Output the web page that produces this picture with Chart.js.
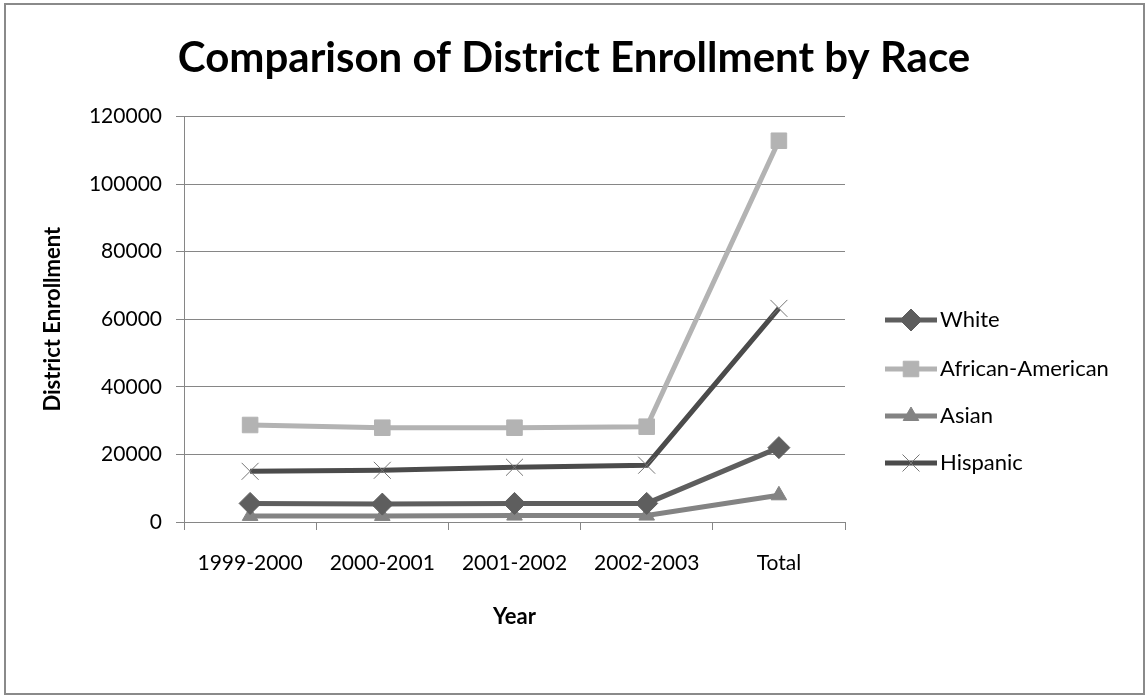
<!DOCTYPE html>
<html>
<head>
<meta charset="utf-8">
<script src="https://cdn.jsdelivr.net/npm/chart.js@4.4.1/dist/chart.umd.min.js"></script>
<style>
  html, body { margin: 0; padding: 0; background: #fff; }
  #frame {
    position: absolute; left: 4px; top: 3px;
    width: 1137px; height: 688px;
    border: 2px solid #8a8a8a;
  }
  #c { position: absolute; left: 0; top: 0; }
</style>
</head>
<body>
<div id="frame"></div>
<canvas id="c" width="1148" height="698"></canvas>
<script>
// enrollment per school year, plus the total column
const years = ['1999-2000', '2000-2001', '2001-2002', '2002-2003', 'Total'];
const white = [5500, 5300, 5500, 5500, 22000];
const africanAmerican = [28700, 27900, 27900, 28200, 112800];
const asian = [1800, 1800, 1900, 1900, 7900];
const hispanic = [15000, 15300, 16200, 16800, 63200];

const FONT = 'Lato, "Open Sans", sans-serif';
const AXIS = '#868686';

const series = [
  { label: 'White', data: white, color: '#5e5e5e', style: 'rectRot', radius: 11, bw: 1, mark: '#5e5e5e' },
  { label: 'African-American', data: africanAmerican, color: '#b3b3b3', style: 'rect', radius: 11, bw: 1, mark: '#b3b3b3' },
  { label: 'Asian', data: asian, color: '#838383', style: 'triangle', radius: 9, bw: 1, mark: '#838383' },
  { label: 'Hispanic', data: hispanic, color: '#4b4b4b', style: 'crossRot', radius: 12, bw: 1, mark: '#767676' }
];

// legend on the right: line sample with the marker in the middle
const sideLegend = {
  id: 'sideLegend',
  afterDraw(chart) {
    const ctx = chart.ctx;
    const x0 = 885, rowY = [320, 369, 416, 463];
    ctx.save();
    chart.data.datasets.forEach((ds, i) => {
      const y = rowY[i];
      ctx.strokeStyle = ds.borderColor;
      ctx.lineWidth = 5;
      ctx.beginPath();
      ctx.moveTo(x0, y);
      ctx.lineTo(x0 + 52, y);
      ctx.stroke();
      ctx.fillStyle = ds.pointBackgroundColor;
      ctx.strokeStyle = ds.pointBorderColor;
      ctx.lineWidth = ds.pointBorderWidth;
      Chart.helpers.drawPoint(ctx, {
        pointStyle: ds.pointStyle,
        radius: ds.pointRadius,
        borderWidth: ds.pointBorderWidth,
        rotation: 0
      }, x0 + 26, y);
      ctx.fillStyle = '#000';
      ctx.font = '22px ' + FONT;
      ctx.textBaseline = 'middle';
      ctx.textAlign = 'left';
      ctx.fillText(ds.label, x0 + 55, y);
    });
    ctx.restore();
  }
};

new Chart(document.getElementById('c'), {
  type: 'line',
  data: {
    labels: years,
    datasets: series.map(s => ({
      label: s.label,
      data: s.data,
      borderColor: s.color,
      borderWidth: 5,
      pointStyle: s.style,
      pointRadius: s.radius,
      pointHoverRadius: s.radius,
      pointBorderWidth: s.bw,
      pointBackgroundColor: s.mark,
      pointBorderColor: s.mark,
      tension: 0
    }))
  },
  options: {
    responsive: false,
    animation: false,
    events: [],
    layout: { padding: { left: 0, right: 0, top: 0, bottom: 58 } },
    plugins: {
      legend: { display: false },
      tooltip: { enabled: false },
      title: {
        display: true,
        text: 'Comparison of District Enrollment by Race',
        color: '#000',
        font: { family: FONT, size: 42, weight: 'bold' },
        padding: { top: 33, bottom: 33 }
      }
    },
    scales: {
      x: {
        offset: true,
        afterFit: (s) => { s.height = 118; },
        grid: { offset: true, drawOnChartArea: false, drawTicks: true, tickLength: 8, color: AXIS },
        border: { color: AXIS },
        ticks: { color: '#000', font: { family: FONT, size: 21 }, padding: 21 },
        title: {
          display: true, text: 'Year', color: '#000',
          font: { family: FONT, size: 22, weight: 'bold' },
          padding: { top: 0, bottom: 10 }
        }
      },
      y: {
        min: 0, max: 120000,
        afterFit: (s) => { s.width = 184; },
        ticks: { stepSize: 20000, color: '#000', font: { family: FONT, size: 21 }, padding: 14, callback: (v) => String(v) },
        grid: { color: AXIS, tickLength: 8 },
        border: { color: AXIS },
        title: {
          display: true, text: 'District Enrollment', color: '#000',
          font: { family: FONT, size: 22, weight: 'bold' },
          padding: { top: 40, bottom: 0 }
        }
      },
      // empty right-hand axis keeps room for the legend column
      side: {
        position: 'right',
        min: 0, max: 1,
        afterFit: (s) => { s.width = 303; },
        grid: { display: false },
        border: { display: false },
        ticks: { display: false }
      }
    }
  },
  plugins: [sideLegend]
});
</script>
</body>
</html>
